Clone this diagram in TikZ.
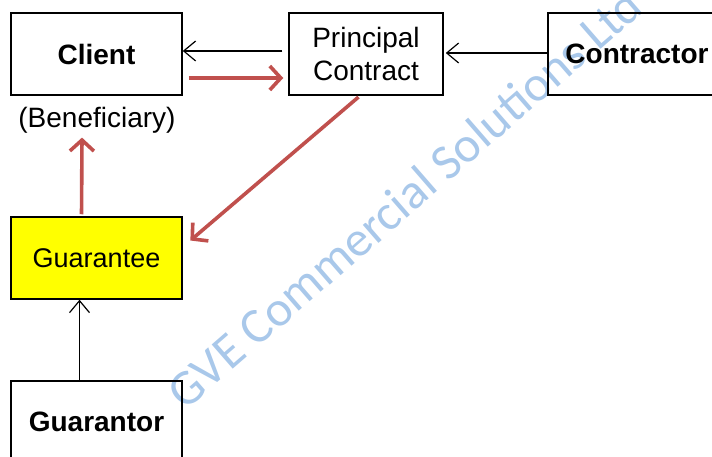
\documentclass[tikz,border=0pt]{standalone}
\usepackage{fontspec}
\setmainfont{Liberation Sans}
\newfontfamily\markfont{Carlito}
\usepackage{tikz}
\usetikzlibrary{arrows.meta,calc,positioning}

\definecolor{flowred}{HTML}{C0504D}
\definecolor{markblue}{HTML}{A9C8EA}
\definecolor{guaryellow}{HTML}{FFFF00}

\begin{document}
\begin{tikzpicture}[x=1pt,y=-1pt,
  party/.style={draw,line width=1.5pt,minimum height=82pt,inner sep=0pt,
    align=center,font=\fontsize{28}{33}\selectfont},
  thinarrow/.style={line width=1.2pt,-{Straight Barb[length=12pt,width=20pt]}},
  redarrow/.style={flowred,line width=3.6pt,-{Straight Barb[length=11pt,width=24pt]}}]
\useasboundingbox (0,0) rectangle (712,457);

% Watermark
\node[markblue,rotate=41,font=\markfont\fontsize{50}{60}\selectfont] (mark) at (404,198)
  {GVE Commercial Solutions Ltd};

% Top row
\node[party,minimum width=171pt,font=\bfseries\fontsize{28}{33}\selectfont] (client) at (96.5,54) {Client};
\node[party,minimum width=154pt] (contract) at (366,54) {Principal\\Contract};
\node[party,minimum width=178pt,font=\bfseries\fontsize{28}{33}\selectfont] (contractor) at (637,54) {Contractor};
\node[font=\fontsize{28}{33}\selectfont] (benef) at (97,120) {(Beneficiary)};

% Left column
\node[party,fill=guaryellow,minimum width=171pt,font=\fontsize{27}{33}\selectfont] (guarantee) at (96.5,258) {Guarantee};
\node[party,minimum width=171pt,font=\bfseries\fontsize{28}{33}\selectfont] (guarantor) at (96.5,422) {Guarantor};

% Black arrows
\draw[thinarrow,shorten <=6pt] ([yshift=3pt]contract.west) -- ([yshift=3pt]client.east);
\draw[thinarrow] ([yshift=1pt]contractor.west) -- ([xshift=2pt,yshift=1pt]contract.east);
\draw[thinarrow] ([xshift=-17pt]guarantor.north) -- ([xshift=-17pt]guarantee.south);

% Red arrows
\draw[redarrow,shorten <=6pt,shorten >=5pt] ([yshift=-24pt]client.east) -- ([yshift=-24pt]contract.west);
\draw[redarrow,shorten <=2pt,shorten >=10pt] ([xshift=-6pt]contract.south) -- ([yshift=11pt]guarantee.east);
\draw[redarrow,shorten <=2pt] ([xshift=-15pt]guarantee.north) -- ([xshift=-15pt,yshift=-1pt]benef.south);
\end{tikzpicture}
\end{document}
